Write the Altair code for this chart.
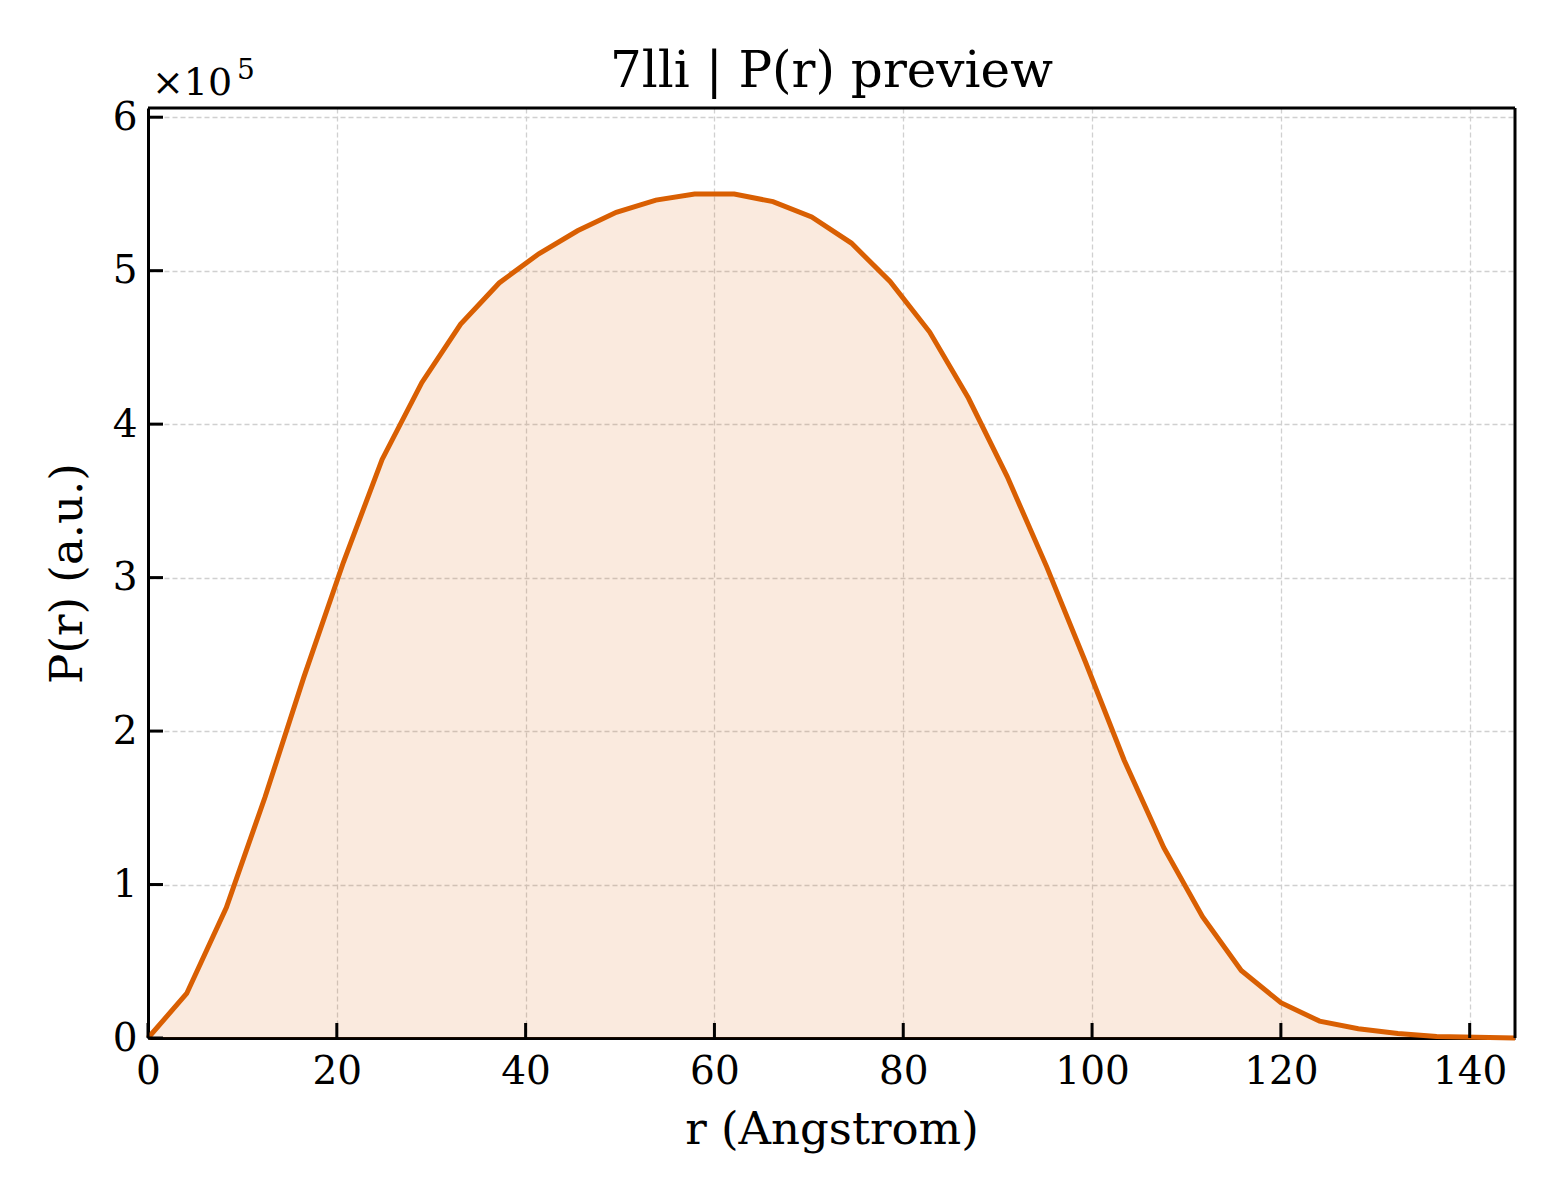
import altair as alt
import pandas as pd

r_vals = [0.0, 4.1, 8.3, 12.4, 16.5, 20.7, 24.8, 29.0, 33.1, 37.2, 41.4, 45.5,
          49.6, 53.8, 57.9, 62.1, 66.2, 70.3, 74.5, 78.6, 82.8, 86.9, 91.0, 95.2,
          99.3, 103.4, 107.6, 111.7, 115.8, 120.0, 124.1, 128.2, 132.4, 136.5, 140.7, 144.8]
p_vals = [0.0, 0.29, 0.85, 1.57, 2.35, 3.10, 3.77, 4.27, 4.65, 4.92, 5.11, 5.26,
          5.38, 5.46, 5.50, 5.50, 5.45, 5.35, 5.18, 4.93, 4.60, 4.17, 3.66, 3.07,
          2.45, 1.81, 1.24, 0.79, 0.44, 0.23, 0.11, 0.06, 0.03, 0.01, 0.005, 0.0]
x_ticks = [0, 20, 40, 60, 80, 100, 120, 140]
y_ticks = [0, 1, 2, 3, 4, 5, 6]
title_text = "7lli | P(r) preview"

FONT = "DejaVu Serif"
COLOR = "#d95f02"
X_DOM = [0, 144.8]
Y_DOM = [0, 6.06]
W, H = 1367, 930

df = pd.DataFrame({"r": r_vals, "p": p_vals})
xt = pd.DataFrame({"t": x_ticks})
yt = pd.DataFrame({"t": y_ticks})

xs = alt.Scale(domain=X_DOM, nice=False, zero=False)
ys = alt.Scale(domain=Y_DOM, nice=False)

grid_style = dict(grid=True, gridColor="#d0d0d0", gridDash=[5, 3], gridWidth=1.3,
                  tickSize=0, domainColor="black", domainWidth=3,
                  labelFont=FONT, labelFontSize=39, labelColor="black",
                  labelFlush=False, format="d",
                  titleFont=FONT, titleFontSize=45, titleFontWeight="normal",
                  titleColor="black")

xaxis = alt.Axis(values=x_ticks, title="r (Angstrom)", labelPadding=14,
                 titlePadding=16, **grid_style)
yaxis = alt.Axis(values=y_ticks, title="P(r) (a.u.)", labelPadding=11,
                 titlePadding=22, **grid_style)

area = alt.Chart(df).mark_area(color=COLOR, opacity=0.13).encode(
    x=alt.X("r:Q", scale=xs, axis=xaxis),
    y=alt.Y("p:Q", scale=ys, axis=yaxis),
)
line = alt.Chart(df).mark_line(color=COLOR, strokeWidth=5).encode(
    x=alt.X("r:Q", scale=xs),
    y=alt.Y("p:Q", scale=ys),
)
xtick = alt.Chart(xt).mark_rule(color="black", strokeWidth=3).encode(
    x=alt.X("t:Q", scale=xs),
    y=alt.value(H), y2=alt.value(H - 15),
)
ytick = alt.Chart(yt).mark_rule(color="black", strokeWidth=3).encode(
    y=alt.Y("t:Q", scale=ys),
    x=alt.value(0), x2=alt.value(15),
)
frame_top = alt.Chart(pd.DataFrame({"k": [0]})).mark_rule(color="black", strokeWidth=3).encode(
    x=alt.value(0), x2=alt.value(W), y=alt.value(0)
)
frame_right = alt.Chart(pd.DataFrame({"k": [0]})).mark_rule(color="black", strokeWidth=3).encode(
    x=alt.value(W), y=alt.value(0), y2=alt.value(H)
)
mult = alt.Chart(pd.DataFrame({"s": ["×10"]})).mark_text(
    font=FONT, fontSize=38, align="left", baseline="alphabetic", color="black"
).encode(x=alt.value(4), y=alt.value(-13), text="s:N")
mult_exp = alt.Chart(pd.DataFrame({"s": ["5"]})).mark_text(
    font=FONT, fontSize=28, align="left", baseline="alphabetic", color="black"
).encode(x=alt.value(89), y=alt.value(-29), text="s:N")
title = alt.Chart(pd.DataFrame({"s": [title_text]})).mark_text(
    font=FONT, fontSize=50, align="center", baseline="alphabetic", color="black"
).encode(x=alt.value(W / 2), y=alt.value(-21), text="s:N")

chart = alt.layer(area, line, xtick, ytick, frame_top, frame_right,
                  mult, mult_exp, title).properties(
    width=W, height=H,
    autosize=alt.AutoSizeParams(type="none"),
    padding={"left": 140, "top": 100, "right": 37, "bottom": 150},
).configure_view(stroke=None).configure(background="white")

chart.save("out.html", embed_options={"renderer": "svg", "actions": False})
